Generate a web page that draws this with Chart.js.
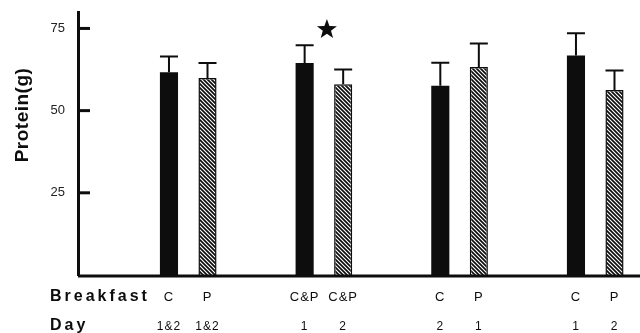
<!DOCTYPE html>
<html>
<head>
<meta charset="utf-8">
<script src="https://cdn.jsdelivr.net/npm/chart.js@4.4.1/dist/chart.umd.min.js"></script>
<style>
  html, body { margin: 0; padding: 0; background: #fff; }
  #chart { display: block; }
</style>
</head>
<body>
<canvas id="chart" width="640" height="333"></canvas>
<script>
// one group per pair of bars; the first bar is solid, the second hatched
const groups = [0, 1, 2, 3];
const firstMeans = [61.7, 64.5, 57.6, 66.8];
const firstErr = [4.8, 5.4, 7.0, 6.7];
const secondMeans = [59.9, 58.0, 63.3, 56.3];
const secondErr = [4.6, 4.5, 7.1, 5.9];
const significant = [false, true, false, false];

const breakfastFirst = ["C", "C&P", "C", "C"];
const breakfastSecond = ["P", "C&P", "P", "P"];
const dayFirst = ["1&2", "1", "2", "1"];
const daySecond = ["1&2", "2", "1", "2"];

const yTicks = [25, 50, 75];
const INK = "#0d0d0d";
const FONT = "'Liberation Sans', Arial, sans-serif";

function hatchPattern() {
  const c = document.createElement("canvas");
  c.width = 4;
  c.height = 4;
  const g = c.getContext("2d");
  g.fillStyle = "#fff";
  g.fillRect(0, 0, 4, 4);
  g.strokeStyle = INK;
  g.lineWidth = 1.7;
  g.beginPath();
  g.moveTo(-1, -1); g.lineTo(5, 5);
  g.moveTo(3, -1); g.lineTo(5, 1);
  g.moveTo(-1, 3); g.lineTo(1, 5);
  g.stroke();
  return g.createPattern(c, "repeat");
}

function drawStar(ctx, cx, cy, outer, inner) {
  ctx.beginPath();
  for (let k = 0; k < 10; k++) {
    const r = k % 2 === 0 ? outer : inner;
    const a = -Math.PI / 2 + (k * Math.PI) / 5;
    const px = cx + r * Math.cos(a);
    const py = cy + r * Math.sin(a);
    if (k === 0) ctx.moveTo(px, py); else ctx.lineTo(px, py);
  }
  ctx.closePath();
  ctx.fill();
}

const decorations = {
  id: "decorations",
  afterDatasetsDraw(chart) {
    const { ctx, chartArea } = chart;
    const y = chart.scales.y;
    ctx.save();
    ctx.strokeStyle = INK;
    ctx.fillStyle = INK;

    // baseline
    ctx.lineWidth = 3;
    ctx.beginPath();
    ctx.moveTo(chartArea.left, chartArea.bottom + 1);
    ctx.lineTo(chartArea.right, chartArea.bottom + 1);
    ctx.stroke();

    // inward tick marks
    yTicks.forEach((v) => {
      const py = y.getPixelForValue(v);
      ctx.beginPath();
      ctx.moveTo(chartArea.left, py);
      ctx.lineTo(chartArea.left + 12, py);
      ctx.stroke();
    });

    // error bars
    const errs = [firstErr, secondErr];
    const means = [firstMeans, secondMeans];
    ctx.lineWidth = 2;
    chart.data.datasets.forEach((ds, di) => {
      chart.getDatasetMeta(di).data.forEach((bar, i) => {
        const top = y.getPixelForValue(means[di][i] + errs[di][i]);
        ctx.beginPath();
        ctx.moveTo(bar.x, bar.y);
        ctx.lineTo(bar.x, top);
        ctx.moveTo(bar.x - 9, top);
        ctx.lineTo(bar.x + 9, top);
        ctx.stroke();
      });
    });

    // significance star
    const m0 = chart.getDatasetMeta(0).data;
    const m1 = chart.getDatasetMeta(1).data;
    significant.forEach((s, i) => {
      if (!s) return;
      const cx = (m0[i].x + m1[i].x) / 2 + 3;
      drawStar(ctx, cx, y.getPixelForValue(75) + 1, 10.5, 4.3);
    });

    // category labels under the bars
    ctx.textAlign = "center";
    ctx.textBaseline = "middle";
    ctx.font = `13px ${FONT}`;
    ctx.letterSpacing = "1px";
    groups.forEach((g, i) => {
      ctx.fillText(breakfastFirst[i], m0[i].x, 297);
      ctx.fillText(breakfastSecond[i], m1[i].x, 297);
    });
    ctx.font = `12px ${FONT}`;
    groups.forEach((g, i) => {
      ctx.fillText(dayFirst[i], m0[i].x, 327);
      ctx.fillText(daySecond[i], m1[i].x, 327);
    });

    // row titles
    ctx.textAlign = "left";
    ctx.font = `bold 16px ${FONT}`;
    ctx.letterSpacing = "3px";
    ctx.fillText("Breakfast", 50, 297);
    ctx.fillText("Day", 50, 326);

    // y axis title
    ctx.font = `bold 19px ${FONT}`;
    ctx.letterSpacing = "0.5px";
    ctx.translate(23, 115);
    ctx.rotate(-Math.PI / 2);
    ctx.textAlign = "center";
    ctx.fillText("Protein(g)", 0, 0);
    ctx.restore();
  },
};

new Chart(document.getElementById("chart"), {
  type: "bar",
  data: {
    datasets: [
      {
        label: "first",
        data: groups.map((g, i) => ({ x: g, y: firstMeans[i] })),
        backgroundColor: INK,
        borderWidth: 0,
      },
      {
        label: "second",
        data: groups.map((g, i) => ({ x: g, y: secondMeans[i] })),
        backgroundColor: hatchPattern(),
        borderColor: INK,
        borderWidth: 1.5,
      },
    ],
  },
  options: {
    responsive: false,
    animation: false,
    devicePixelRatio: 1,
    categoryPercentage: 0.568,
    barPercentage: 0.47,
    layout: { padding: { top: 12, right: 0, bottom: 58, left: 0 } },
    plugins: { legend: { display: false }, tooltip: { enabled: false } },
    scales: {
      x: {
        type: "linear",
        display: false,
        offset: false,
        min: -0.8126,
        max: 3.33,
        afterBuildTicks: (s) => { s.ticks = groups.map((g) => ({ value: g })); },
      },
      y: {
        min: 0,
        max: 80,
        grid: { display: false, drawTicks: false },
        border: { display: true, color: INK, width: 3 },
        ticks: {
          padding: 13,
          color: "#222",
          font: { family: FONT, size: 13 },
        },
        afterBuildTicks: (s) => { s.ticks = yTicks.map((v) => ({ value: v })); },
        afterFit: (s) => { s.width = 78; s.paddingTop = 0; s.paddingBottom = 0; },
      },
    },
  },
  plugins: [decorations],
});
</script>
</body>
</html>
